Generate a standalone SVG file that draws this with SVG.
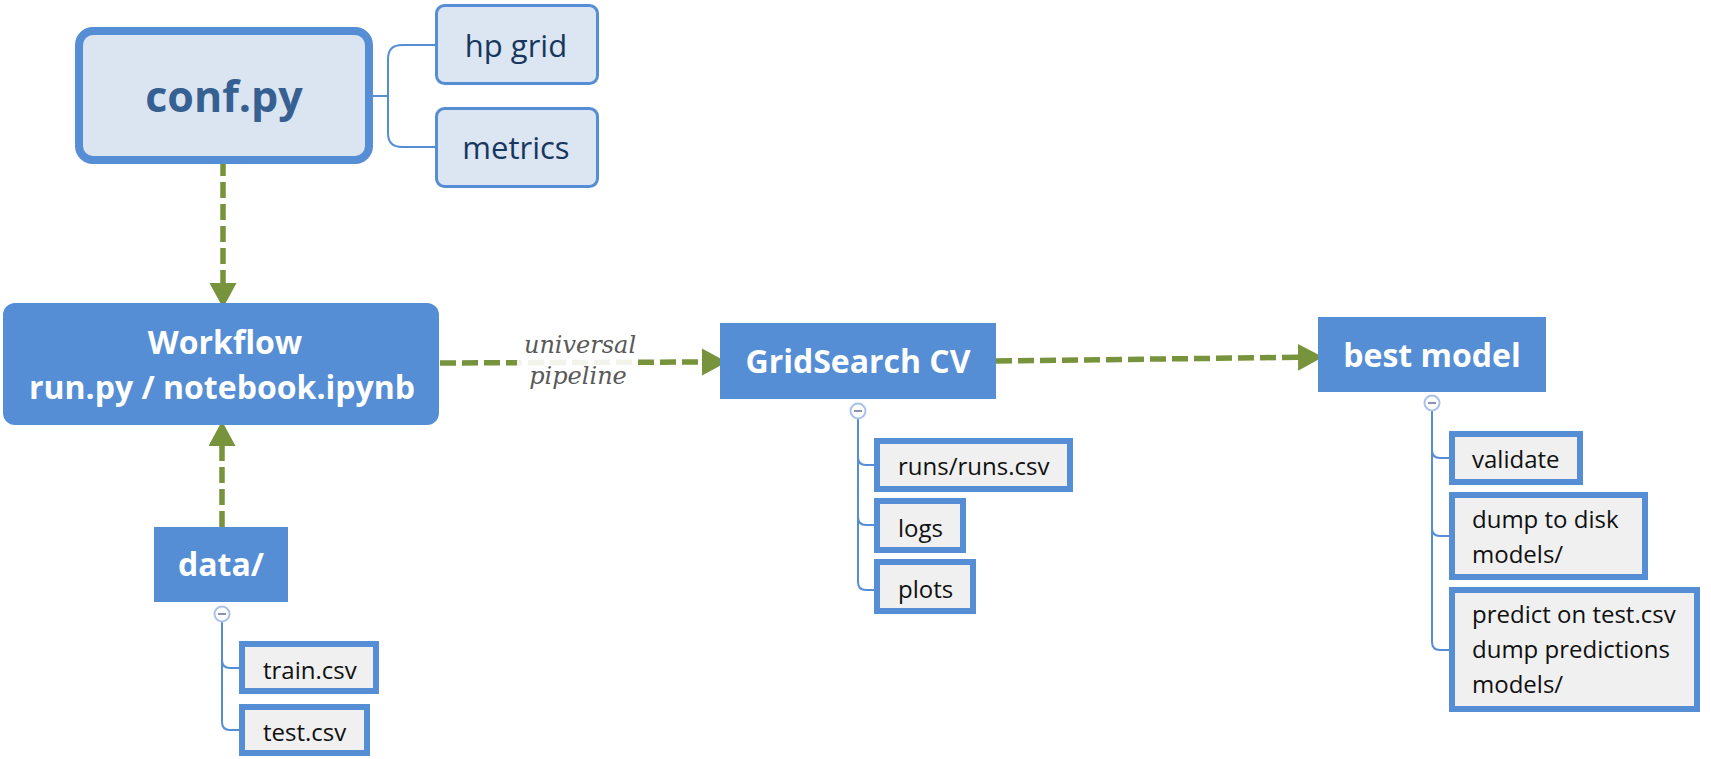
<svg xmlns="http://www.w3.org/2000/svg" width="1711" height="759" viewBox="0 0 1711 759">
<style>
.main{fill:#558ed5}
.title{font-family:"Open Sans","Noto Sans","Liberation Sans",sans-serif;font-weight:700;font-size:32px;fill:#ffffff;text-anchor:middle}
.leaf{fill:#f0f0f0;stroke:#558ed5;stroke-width:6}
.lt{font-family:"Open Sans","Noto Sans","Liberation Sans",sans-serif;font-size:24px;fill:#111111}
.sub{fill:#dce6f2;stroke:#558ed5;stroke-width:3}
.st{font-family:"Open Sans","Noto Sans","Liberation Sans",sans-serif;font-size:31px;fill:#17375e;text-anchor:middle}
.br{fill:none;stroke:#558ed5;stroke-width:2}
.dash{fill:none;stroke:#77933c;stroke-width:5.5;stroke-dasharray:16 6}
.tog{fill:#ffffff;stroke:#a9c2ec;stroke-width:2}
.togm{stroke:#8b93b5;stroke-width:2}
.lbl{font-family:"DejaVu Serif","Liberation Serif",serif;font-style:italic;font-size:24px;fill:#595959;text-anchor:middle}
</style>
<defs>
<marker id="ah" markerUnits="userSpaceOnUse" markerWidth="26" markerHeight="28" refX="0" refY="13.5" orient="auto">
<path d="M0,0 L25,13.5 L0,27 z" fill="#77933c"/>
</marker>
</defs>

<g id="connectors">
<path class="br" d="M373,96 H388 M435,45 H402 Q388,45 388,59 V133 Q388,147 402,147 H435"/>
<path class="br" d="M222,622 V722 Q222,730 230,730 H242 M222,660 Q222,668 230,668 H242"/>
<path class="br" d="M858,419 V582 Q858,590 866,590 H877 M858,457 Q858,465 866,465 H877 M858,517 Q858,525 866,525 H877"/>
<path class="br" d="M1432,411 V642 Q1432,650 1440,650 H1452 M1432,450 Q1432,458 1440,458 H1452 M1432,528 Q1432,536 1440,536 H1452"/>
<path class="dash" d="M223,160 V283" marker-end="url(#ah)"/>
<path class="dash" d="M222,527 V446" marker-end="url(#ah)"/>
<path class="dash" d="M440,363 L702,362" marker-end="url(#ah)"/>
<path class="dash" d="M996,361 L1298,357.3" marker-end="url(#ah)"/>
<rect x="517" y="333" width="118" height="59" fill="#ffffff" fill-opacity="0.9"/>
<text class="lbl" x="580" y="353">universal</text>
<text class="lbl" x="578" y="384">pipeline</text>
</g>

<g id="conf">
<rect x="79" y="31" width="290" height="129" rx="14" fill="#dbe5f1" stroke="#558ed5" stroke-width="8"/>
<text x="224" y="112" font-family="'Open Sans','Noto Sans','Liberation Sans',sans-serif" font-weight="700" font-size="43" fill="#366092" text-anchor="middle">conf.py</text>
</g>
<g id="hpgrid">
<rect class="sub" x="436.5" y="5.5" width="161" height="78" rx="8"/>
<text class="st" x="516" y="57">hp grid</text>
</g>
<g id="metrics">
<rect class="sub" x="436.5" y="108.5" width="161" height="78" rx="8"/>
<text class="st" x="516" y="159">metrics</text>
</g>

<g id="workflow">
<rect class="main" x="3" y="303" width="436" height="122" rx="12"/>
<text class="title" x="225" y="354">Workflow</text>
<text class="title" x="222" y="399">run.py / notebook.ipynb</text>
</g>

<g id="data">
<rect class="main" x="154" y="527" width="134" height="75"/>
<text class="title" x="221" y="576">data/</text>
<circle class="tog" cx="222" cy="614" r="7.5"/>
<line class="togm" x1="218" y1="614" x2="226" y2="614"/>
</g>
<g id="train">
<rect class="leaf" x="242" y="644" width="134" height="47"/>
<text class="lt" x="263" y="679">train.csv</text>
</g>
<g id="test">
<rect class="leaf" x="242" y="707" width="125" height="46"/>
<text class="lt" x="263" y="741">test.csv</text>
</g>

<g id="gridsearch">
<rect class="main" x="720" y="323" width="276" height="76"/>
<text class="title" x="858" y="373">GridSearch CV</text>
<circle class="tog" cx="858" cy="411" r="7.5"/>
<line class="togm" x1="854" y1="411" x2="862" y2="411"/>
</g>
<g id="runs">
<rect class="leaf" x="877" y="441" width="193" height="48"/>
<text class="lt" x="898" y="475">runs/runs.csv</text>
</g>
<g id="logs">
<rect class="leaf" x="877" y="501" width="86" height="49"/>
<text class="lt" x="898" y="537">logs</text>
</g>
<g id="plots">
<rect class="leaf" x="877" y="562" width="96" height="49"/>
<text class="lt" x="898" y="598">plots</text>
</g>

<g id="bestmodel">
<rect class="main" x="1318" y="317" width="228" height="75"/>
<text class="title" x="1432" y="367">best model</text>
<circle class="tog" cx="1432" cy="403" r="7.5"/>
<line class="togm" x1="1428" y1="403" x2="1436" y2="403"/>
</g>
<g id="validate">
<rect class="leaf" x="1452" y="434" width="128" height="48"/>
<text class="lt" x="1472" y="468">validate</text>
</g>
<g id="dump">
<rect class="leaf" x="1452" y="495" width="193" height="82"/>
<text class="lt" x="1472" y="528">dump to disk</text>
<text class="lt" x="1472" y="563">models/</text>
</g>
<g id="predict">
<rect class="leaf" x="1452" y="590" width="245" height="119"/>
<text class="lt" x="1472" y="623">predict on test.csv</text>
<text class="lt" x="1472" y="658">dump predictions</text>
<text class="lt" x="1472" y="693">models/</text>
</g>
</svg>
